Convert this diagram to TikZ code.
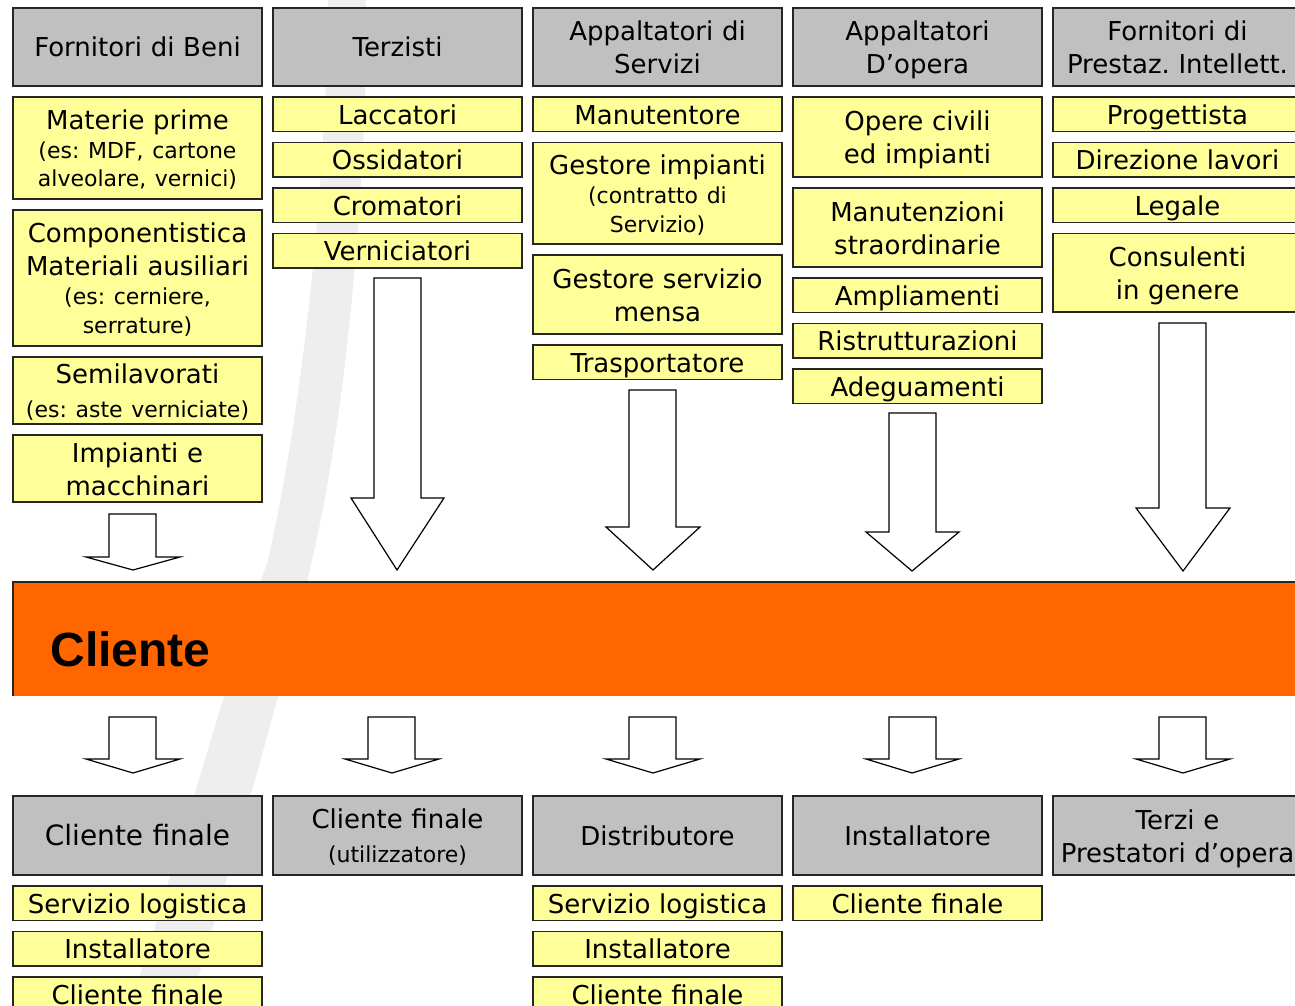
\documentclass[tikz,border=0pt]{standalone}
\usepackage{fontspec}
\setmainfont{DejaVu Sans}
\newfontfamily\arialfont{Liberation Sans}
\usetikzlibrary{positioning}

\definecolor{boxyellow}{RGB}{255,255,153}
\definecolor{boxgray}{RGB}{192,192,192}
\definecolor{clienteorange}{RGB}{255,102,0}
\definecolor{wmark}{RGB}{238,238,238}

\newcommand{\sm}{\fontsize{22}{28}\selectfont}

\tikzset{every picture/.style={line width=1.2pt}}
\tikzset{
  cell/.style={draw=black!85, text width=249pt, inner sep=0pt, outer sep=0pt, align=center,
    font=\fontsize{26}{33}\selectfont,
    execute at begin node={\rule{0pt}{26.5pt}},
    execute at end node={\rule[-6.5pt]{0pt}{6.5pt}}},
  hbox/.style={cell, fill=boxgray, minimum height=#1},
  hbox/.default=78pt,
  ybox/.style={cell, fill=boxyellow, minimum height=#1},
  ybox/.default=34.5pt,
  barrow/.style={draw=black, fill=white, line join=miter},
}

\begin{document}
\frenchspacing
\begin{tikzpicture}[x=1pt,y=-1pt]
	\useasboundingbox (0,0) rectangle (1295,1006);
	\clip (0,0) rectangle (1295,1006);

	% Shape: background stroke
	\fill[wmark] (328,0) -- (366,0) .. controls (368,150) and (350,400) .. (312,560) .. controls (290,660) and (250,800) .. (190,1006) -- (130,1006) .. controls (180,850) and (220,700) .. (268,560) .. controls (300,420) and (326,200) .. (328,0) -- cycle;

	% Column: Fornitori di Beni
	\node[hbox, anchor=north west] (benihdr) at (13,8) {Fornitori di Beni};
	\node[ybox=102pt, below=11pt of benihdr] (materie) {Materie prime\\[1pt]\sm(es: MDF, cartone\\[-4pt]alveolare, vernici)};
	\node[ybox=136pt, below=11pt of materie] (compon) {Componentistica\\Materiali ausiliari\\[1pt]\sm(es: cerniere,\\[-4pt]serrature)};
	\node[ybox=67pt, below=11pt of compon] (semilav) {Semilavorati\\[1pt]\sm(es: aste verniciate)};
	\node[ybox=67pt, below=11pt of semilav] (impianti) {Impianti e\\macchinari};

	% Column: Terzisti
	\node[hbox, anchor=north west] (terzhdr) at (273,8) {Terzisti};
	\node[ybox, below=11pt of terzhdr] (lacc) {Laccatori};
	\node[ybox, below=11pt of lacc] (ossid) {Ossidatori};
	\node[ybox, below=11pt of ossid] (crom) {Cromatori};
	\node[ybox, below=11pt of crom] (vernic) {Verniciatori};

	% Column: Appaltatori di Servizi
	\node[hbox, anchor=north west] (servhdr) at (533,8) {Appaltatori di\\Servizi};
	\node[ybox, below=11pt of servhdr] (manut) {Manutentore};
	\node[ybox=101.5pt, below=11pt of manut] (gestimp) {Gestore impianti\\[1pt]\sm(contratto di\\[-4pt]Servizio)};
	\node[ybox=79pt, below=11pt of gestimp] (mensa) {Gestore servizio\\mensa};
	\node[ybox, below=11pt of mensa] (trasp) {Trasportatore};

	% Column: Appaltatori D'opera
	\node[hbox, anchor=north west] (operahdr) at (793,8) {Appaltatori\\D’opera};
	\node[ybox=80pt, below=11pt of operahdr] (civili) {Opere civili\\ed impianti};
	\node[ybox=79pt, below=11pt of civili] (straord) {Manutenzioni\\straordinarie};
	\node[ybox, below=11pt of straord] (ampl) {Ampliamenti};
	\node[ybox, below=11pt of ampl] (ristr) {Ristrutturazioni};
	\node[ybox, below=11pt of ristr] (adeg) {Adeguamenti};

	% Column: Fornitori di Prestaz. Intellett.
	\node[hbox, anchor=north west] (intellhdr) at (1053,8) {Fornitori di\\Prestaz. Intellett.};
	\node[ybox, below=11pt of intellhdr] (progett) {Progettista};
	\node[ybox, below=11pt of progett] (dirlav) {Direzione lavori};
	\node[ybox, below=11pt of dirlav] (legale) {Legale};
	\node[ybox=78.5pt, below=11pt of legale] (consul) {Consulenti\\in genere};

	% Shape: Block Arrows (suppliers to Cliente)
	\draw[barrow] (109,514) -- (156,514) -- (156,557) -- (180,557) -- (133,570) -- (86,557) -- (109,557) -- cycle;
	\draw[barrow] (374,278) -- (421,278) -- (421,498) -- (444,498) -- (397,570) -- (351,498) -- (374,498) -- cycle;
	\draw[barrow] (629,390) -- (676,390) -- (676,527) -- (700,527) -- (653,570) -- (606,527) -- (629,527) -- cycle;
	\draw[barrow] (889,413) -- (936,413) -- (936,532) -- (959,532) -- (912,571) -- (866,532) -- (889,532) -- cycle;
	\draw[barrow] (1159,323) -- (1206,323) -- (1206,508) -- (1230,508) -- (1183,571) -- (1136,508) -- (1159,508) -- cycle;

	% Shape: Cliente bar
	\node[fill=clienteorange, inner sep=0pt, minimum width=1290pt, minimum height=113pt, anchor=north west] (cliente) at (13,582) {};
	\draw[black!85] (cliente.south west) -- (cliente.north west) -- (cliente.north east);
	% Text Node
	\node[anchor=base west, inner sep=0pt, font=\arialfont\bfseries\fontsize{48}{56}\selectfont] (clientelbl) at (50,666) {Cliente};

	% Shape: Block Arrows (Cliente to customers)
	\draw[barrow] (109,717) -- (156,717) -- (156,759) -- (180,759) -- (133,773) -- (86,759) -- (109,759) -- cycle;
	\draw[barrow] (368,717) -- (415,717) -- (415,759) -- (439,759) -- (392,773) -- (345,759) -- (368,759) -- cycle;
	\draw[barrow] (629,717) -- (676,717) -- (676,759) -- (700,759) -- (653,773) -- (606,759) -- (629,759) -- cycle;
	\draw[barrow] (889,717) -- (936,717) -- (936,759) -- (959,759) -- (912,773) -- (866,759) -- (889,759) -- cycle;
	\draw[barrow] (1159,717) -- (1206,717) -- (1206,759) -- (1230,759) -- (1183,773) -- (1136,759) -- (1159,759) -- cycle;

	% Bottom row: customers
	\node[hbox=79pt, anchor=north west, font=\fontsize{28}{35}\selectfont] (finhdr) at (13,796) {Cliente finale};
	\node[ybox, below=11pt of finhdr] (logist1) {Servizio logistica};
	\node[ybox, below=11pt of logist1] (instal1) {Installatore};
	\node[ybox, below=11pt of instal1] (finale1) {Cliente finale};

	\node[hbox=79pt, anchor=north west] (utilhdr) at (273,796) {Cliente finale\\[1pt]\sm(utilizzatore)};

	\node[hbox=79pt, anchor=north west] (distrhdr) at (533,796) {Distributore};
	\node[ybox, below=11pt of distrhdr] (logist3) {Servizio logistica};
	\node[ybox, below=11pt of logist3] (instal3) {Installatore};
	\node[ybox, below=11pt of instal3] (finale3) {Cliente finale};

	\node[hbox=79pt, anchor=north west] (instalhdr) at (793,796) {Installatore};
	\node[ybox, below=11pt of instalhdr] (finale4) {Cliente finale};

	\node[hbox=79pt, anchor=north west] (terzihdr) at (1053,796) {Terzi e\\Prestatori d’opera};

\end{tikzpicture}
\end{document}
